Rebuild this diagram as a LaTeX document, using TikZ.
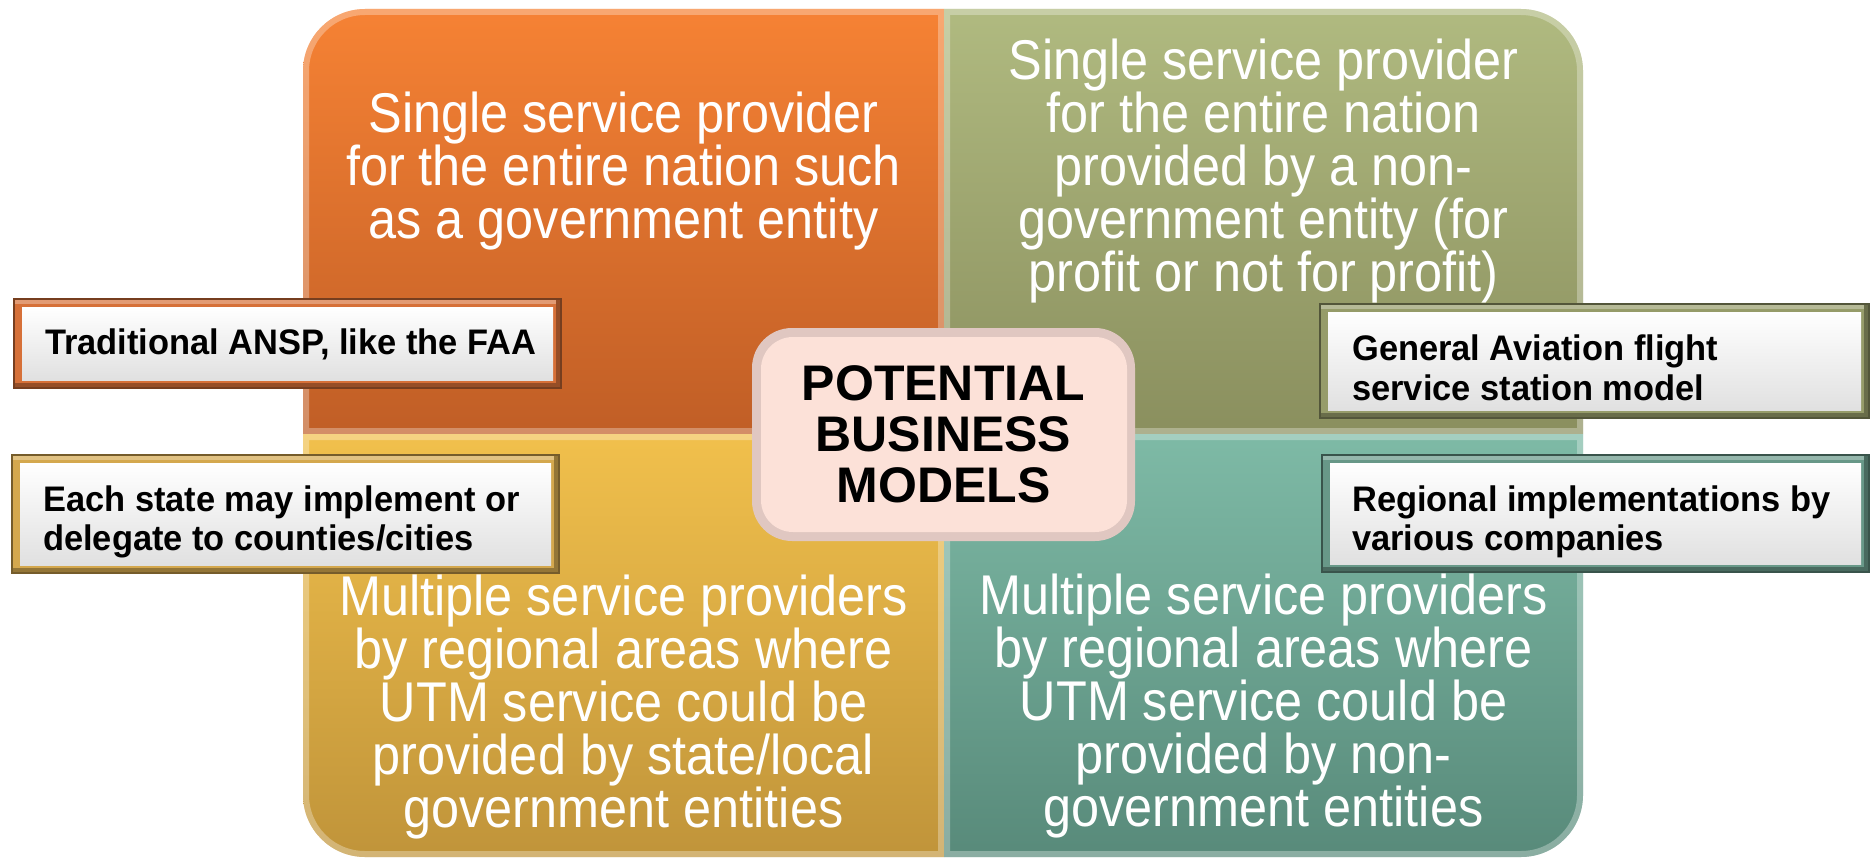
\documentclass[tikz,border=0pt]{standalone}
\usepackage{fontspec}
\setmainfont{Liberation Sans}
\newfontfamily\quadfont[FakeStretch=0.9]{Liberation Sans}
\newfontfamily\lblfont[FakeStretch=0.97]{Liberation Sans}

\definecolor{orT}{RGB}{246,130,52}
\definecolor{orB}{RGB}{192,94,38}
\definecolor{grT}{RGB}{176,186,128}
\definecolor{grB}{RGB}{138,143,94}
\definecolor{goT}{RGB}{241,192,76}
\definecolor{goB}{RGB}{192,148,58}
\definecolor{teT}{RGB}{126,186,166}
\definecolor{teB}{RGB}{88,138,122}
\definecolor{pinkIn}{RGB}{252,225,216}
\definecolor{pinkRim}{RGB}{224,199,193}
\definecolor{bdOr}{RGB}{214,112,56}
\definecolor{bdGo}{RGB}{212,168,78}
\definecolor{bdGr}{RGB}{150,156,106}
\definecolor{bdTe}{RGB}{104,152,136}

\tikzset{
  qtext/.style={text=white, align=center, inner sep=0pt,
    font=\quadfont\fontsize{56}{53}\selectfont},
  ctext/.style={text=black, align=center, inner sep=0pt,
    font=\bfseries\fontsize{50}{51}\selectfont},
  ltext/.style={text=black, align=left, inner sep=0pt, anchor=west,
    font=\lblfont\bfseries\fontsize{35.5}{39.5}\selectfont},
  bevel/.style={line width=12pt, white, opacity=0.3},
}

\newcommand\mylabelbox[5]{%
  \fill[#5] (#1,#2) rectangle (#3,#4);
  \fill[#5!70!white] (#1+1,#2+1) rectangle (#3-1,#2+5);
  \fill[#5!70!black] (#3-5,#2+1) rectangle (#3-1,#4-1);
  \fill[#5!70!black] (#1+1,#4-5) rectangle (#3-1,#4-1);
  \draw[#5!55!black, line width=1.5pt] (#1,#2) rectangle (#3,#4);
  \shade[top color=white, middle color=white, bottom color=black!12]
    (#1+8,#2+8) rectangle (#3-8,#4-8);
}

\begin{document}
\begin{tikzpicture}[x=1pt,y=-1pt]
\useasboundingbox (0,0) rectangle (1873,861);

% quadrant shapes
\def\qTL{(303,434) -- (303,71) .. controls (303,36.76) and (330.76,9) .. (365,9) -- (944,9) -- (944,434) -- cycle}
\def\qTR{(944,9) -- (1521,9) .. controls (1555.24,9) and (1583,36.76) .. (1583,71) -- (1583,434) -- (944,434) -- cycle}
\def\qBL{(303,434) -- (944,434) -- (944,857) -- (365,857) .. controls (330.76,857) and (303,829.24) .. (303,795) -- cycle}
\def\qBR{(944,434) -- (1583,434) -- (1583,795) .. controls (1583,829.24) and (1555.24,857) .. (1521,857) -- (944,857) -- cycle}

\shade[top color=orT, bottom color=orB] \qTL;
\begin{scope}\clip \qTL; \draw[bevel] \qTL; \end{scope}
\shade[top color=grT, bottom color=grB] \qTR;
\begin{scope}\clip \qTR; \draw[bevel] \qTR; \end{scope}
\shade[top color=goT, bottom color=goB] \qBL;
\begin{scope}\clip \qBL; \draw[bevel] \qBL; \end{scope}
\shade[top color=teT, bottom color=teB] \qBR;
\begin{scope}\clip \qBR; \draw[bevel] \qBR; \end{scope}

\node[qtext] (tl) at (623.5,171) {Single service provider\\for the entire nation such\\as a government entity};
\node[qtext] (tr) at (1263.5,171) {Single service provider\\for the entire nation\\provided by a non-\\government entity (for\\profit or not for profit)};
\node[qtext] (bl) at (623.5,707) {Multiple service providers\\by regional areas where\\UTM service could be\\provided by state/local\\government entities};
\node[qtext] (br) at (1263.5,706) {Multiple service providers\\by regional areas where\\UTM service could be\\provided by non-\\government entities};

% centre box
\fill[pinkRim, rounded corners=40pt] (752,328) rectangle (1135,541);
\fill[pinkIn, rounded corners=32pt] (761,337) rectangle (1127,532);
\node[ctext] (ctr) at (943.5,434) {POTENTIAL\\BUSINESS\\MODELS};

% label boxes
\mylabelbox{14}{299}{561}{388}{bdOr}
\node[ltext] (trad) at (45,344) {Traditional ANSP, like the FAA};
\mylabelbox{12}{455}{559}{573}{bdGo}
\node[ltext] (each) at (43,522) {Each state may implement or\\delegate to counties/cities};
\mylabelbox{1320}{304}{1869}{418}{bdGr}
\node[ltext] (ga) at (1352,368) {General Aviation flight\\service station model};
\mylabelbox{1322}{455}{1869}{572}{bdTe}
\node[ltext] (reg) at (1352,522) {Regional implementations by\\various companies};
\end{tikzpicture}
\end{document}
